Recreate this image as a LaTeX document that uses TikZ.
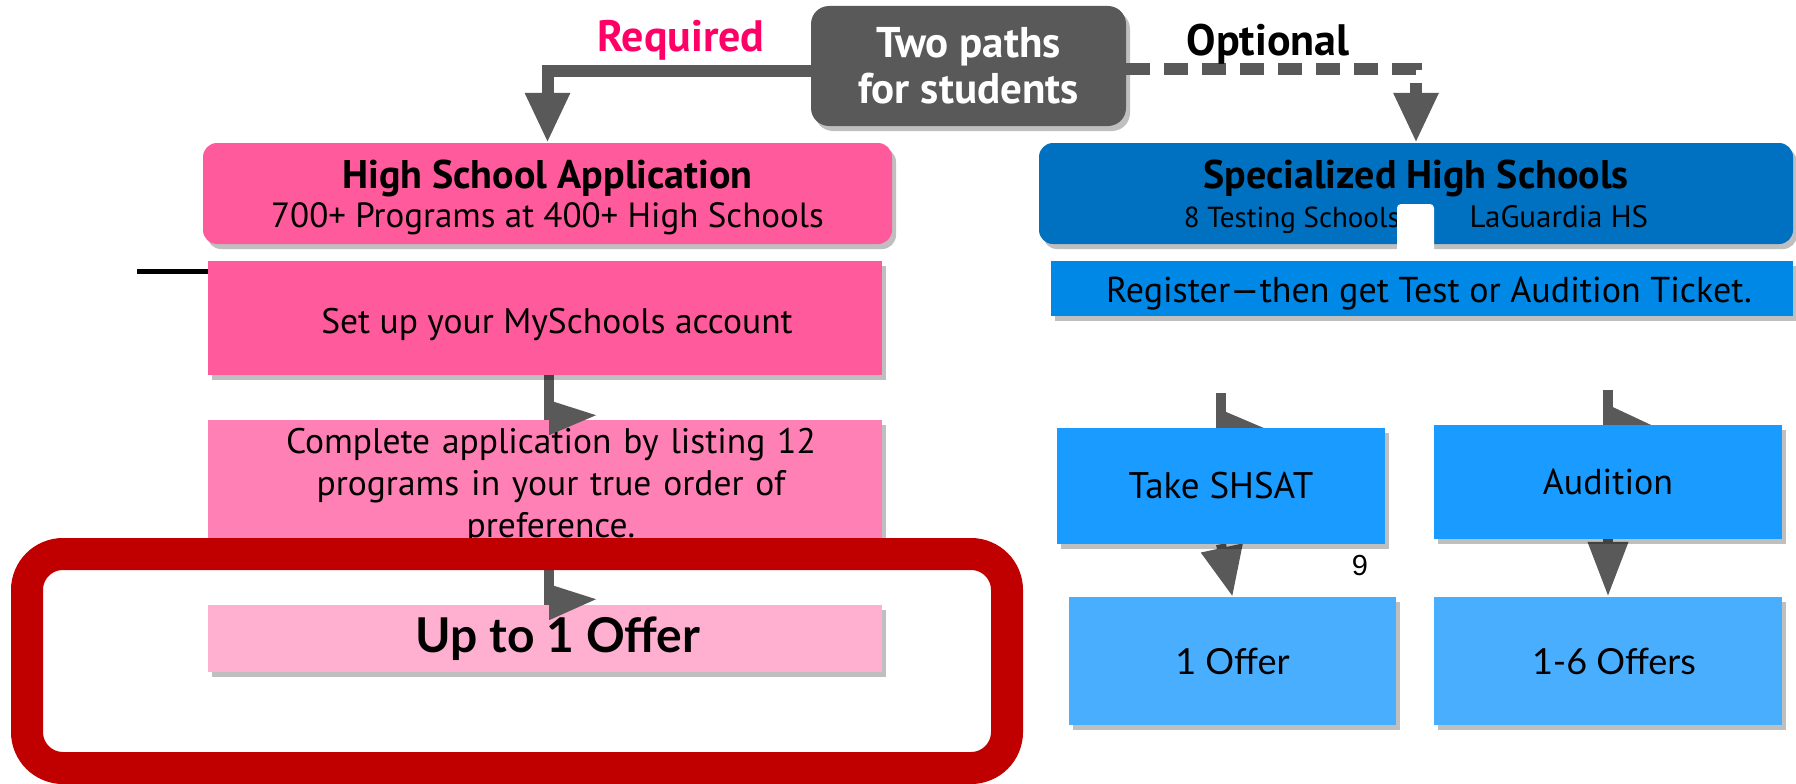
\documentclass[tikz,border=0pt]{standalone}
\usepackage{fontspec}
\setmainfont{PT Sans}
\newfontfamily\latofont{Lato}
\newfontfamily\helvfont{Liberation Sans}
\usetikzlibrary{arrows.meta,shadows,calc}
\pgfdeclarelayer{bg}
\pgfsetlayers{bg,main}
\definecolor{arrgray}{HTML}{595959}
\definecolor{pinkA}{HTML}{FF5A9B}
\definecolor{pinkB}{HTML}{FF80B4}
\definecolor{pinkC}{HTML}{FFB0D0}
\definecolor{framered}{HTML}{C00000}
\definecolor{reqpink}{HTML}{FF0066}
\definecolor{blueA}{HTML}{0070C0}
\definecolor{blueB}{HTML}{0088E6}
\definecolor{blueC}{HTML}{1A9BFF}
\definecolor{blueD}{HTML}{4AAEFF}
\newcommand\fsz[2]{\fontsize{#1}{#2}\selectfont}
\begin{document}
\begin{tikzpicture}[x=1pt,y=1pt,
  box/.style={draw=none, inner sep=0pt, align=center, text=black},
  shadowed/.style={drop shadow={shadow xshift=4pt,shadow yshift=-5pt,opacity=0.25,fill=black}},
  conn/.style={draw=arrgray, line width=12pt},
  stemline/.style={draw=arrgray, line width=10pt},
  bigtip/.style={-{Triangle[length=50pt,width=42pt]}},
  tritip/.style={fill=arrgray},
  lbl/.style={inner sep=0pt, font=\bfseries\fsz{44}{48}}
]
\useasboundingbox (0,0) rectangle (1796,-784);

% nodes
\node[box, shadowed, fill=arrgray, rounded corners=18pt, minimum width=315pt, minimum height=120pt,
      text=white, font=\bfseries\fsz{43}{46}] (two) at (968.5,-66) {Two paths\\for students};

\node[box, shadowed, fill=pinkA, rounded corners=14pt, minimum width=689pt, minimum height=101pt,
      font=\fsz{35}{41}] (hsa) at (547.5,-193.5) {\raisebox{-10pt}[0pt][0pt]{\parbox{680pt}{\centering{\fsz{40}{41}\bfseries High School Application}\\[-2pt]700+ Programs at 400+ High Schools}}};

\node[box, shadowed, fill=blueA, rounded corners=14pt, minimum width=754pt, minimum height=101pt,
      font=\fsz{35}{41}] (shs) at (1416,-193.5) {\raisebox{-10pt}[0pt][0pt]{\parbox{740pt}{\centering{\fsz{40}{41}\bfseries Specialized High Schools}\\[-2pt]{\fsz{29}{30}8 Testing Schools\hspace{70pt}{\fsz{31}{30}LaGuardia HS}}}}};

\node[box, shadowed, fill=pinkA, minimum width=674pt, minimum height=114pt,
      font=\fsz{35.5}{40}] (setup) at (545,-318) {\raisebox{-15pt}[0pt][0pt]{\hspace{24pt}Set up your MySchools account}};

\node[box, shadowed, fill=pinkB, minimum width=674pt, minimum height=120pt, text width=640pt,
      font=\fsz{35.5}{42}] (complete) at (545,-480) {\raisebox{-13pt}[0pt][0pt]{\parbox{640pt}{\centering\hspace*{12pt}Complete application by listing 12\\\hspace*{12pt}programs in your true order of\\\hspace*{12pt}preference.}}};

\node[box, shadowed, fill=pinkC, minimum width=674pt, minimum height=67pt,
      font=\latofont\bfseries\fsz{48}{50}] (upto) at (545,-638.5) {\hspace{26pt}Up to 1 Offer};

\node[box, shadowed, fill=blueB, minimum width=742pt, minimum height=55pt,
      font=\fsz{36}{40}] (register) at (1422,-288.5) {\raisebox{-13.5pt}[0pt][0pt]{\hspace{14pt}Register---then get Test or Audition Ticket.}};

\node[box, shadowed, fill=blueC, minimum width=328pt, minimum height=116pt,
      font=\fsz{37}{40}] (shsat) at (1221,-486) {Take SHSAT};

\node[box, shadowed, fill=blueC, minimum width=348pt, minimum height=114pt,
      font=\fsz{36}{40}] (audition) at (1608,-482) {Audition};

\node[box, shadowed, fill=blueD, minimum width=327pt, minimum height=128pt,
      font=\latofont\fsz{36}{40}] (offer1) at (1232.5,-661) {1 Offer};

\node[box, shadowed, fill=blueD, minimum width=348pt, minimum height=128pt,
      font=\latofont\fsz{36}{40}] (offers6) at (1608,-661) {\hspace{12pt}1-6 Offers};

% connectors under boxes
\begin{pgfonlayer}{bg}
  \coordinate (s3) at ([yshift=35pt]shsat.north);
  \draw[stemline] (s3) -- (shsat.north);
  \fill[tritip] ([yshift=18pt]shsat.north) -- ([xshift=47pt,yshift=-2pt]shsat.north) -- ([yshift=-27pt]shsat.north) -- cycle;
  \coordinate (s4) at ([yshift=35pt]audition.north);
  \draw[stemline] (s4) -- (audition.north);
  \fill[tritip] ([yshift=20pt]audition.north) -- ([xshift=47pt,yshift=-2pt]audition.north) -- ([yshift=-25pt]audition.north) -- cycle;
  \draw[stemline, -{Triangle[length=50pt,width=40pt]}] (shsat.south) -- (offer1.north);
  \draw[stemline, -{Triangle[length=55pt,width=38pt]}] (audition.south) -- (offers6.north);
  \coordinate (s1) at ([xshift=4pt]setup.south);
  \draw[stemline] (s1) -- ([yshift=-20pt]s1 |- complete.north);
  \coordinate (s2) at ([xshift=4pt]complete.south);
  \draw[stemline] (s2) -- ([yshift=-10pt]s2 |- upto.north);
\end{pgfonlayer}

% top connectors
\draw[conn, bigtip] ([yshift=-5pt]two.west) -| (hsa.north);
\draw[conn, bigtip, dash pattern=on 24pt off 14pt] ([yshift=-3pt]two.east) -| (shs.north);

% red frame
\draw[framered, line width=32pt, rounded corners=36pt] (27,-554) rectangle (1007,-768);

% odd right-pointing triangles
\fill[tritip] ([yshift=-25pt]s1) -- ([xshift=47pt,yshift=-40pt]s1) -- ([yshift=-60pt]s1) -- cycle;
\fill[tritip] ([yshift=-44pt]s2) -- ([xshift=47pt,yshift=-59pt]s2) -- ([yshift=-80pt]s2) -- cycle;

% white patch on blue box
\fill[white, rounded corners=4pt] (1397,-204) rectangle (1434,-258);

% black line
\coordinate (bl) at (137,-271);
\draw[black, line width=5pt] (bl) -- (setup.west |- bl);

% labels
\node[lbl, text=reqpink] (req) at (681,-40) {Required};
\node[lbl, text=black] (opt) at (1268,-44) {Optional};
\node[inner sep=0pt, font=\helvfont\fsz{29}{32}] (nine) at (1360,-566) {9};
\end{tikzpicture}
\end{document}
